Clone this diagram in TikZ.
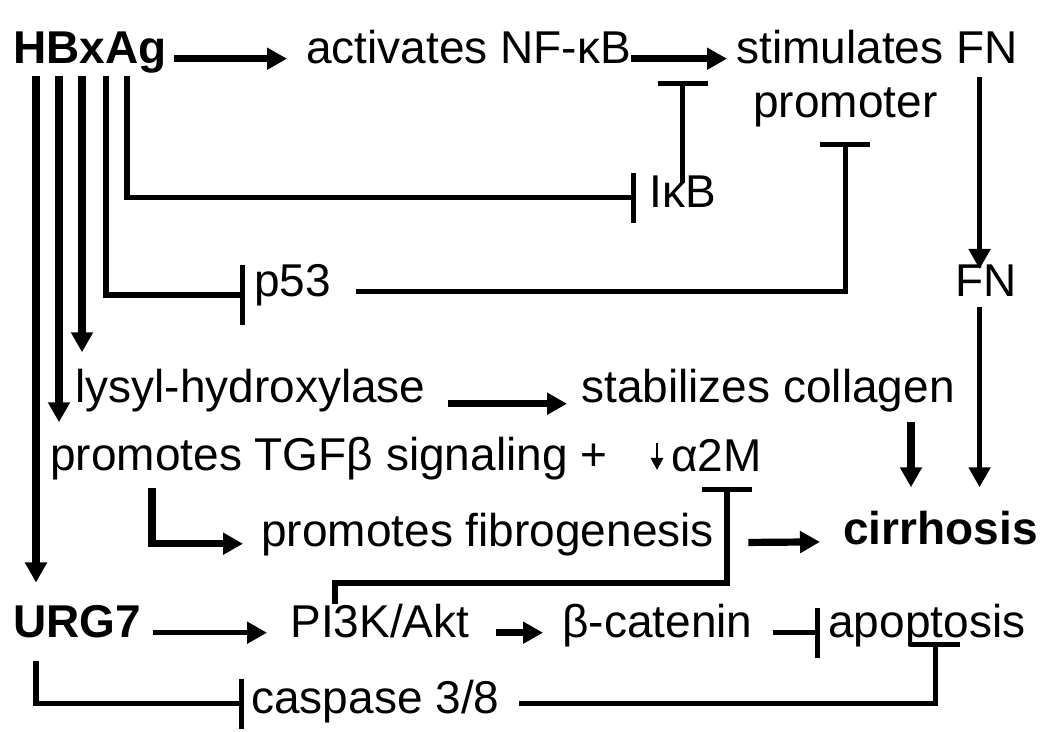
\documentclass[tikz,border=0pt]{standalone}
\usepackage{fontspec}
\setmainfont{Liberation Sans}
\usetikzlibrary{arrows.meta,calc}

\begin{document}
\begin{tikzpicture}[x=0.5pt, y=-0.5pt,
    every node/.style = {anchor=base west, inner sep=0pt, font=\fontsize{23}{27}\selectfont},
    key/.style = {font=\fontsize{23}{27}\selectfont\bfseries},
    thickline/.style = {line width=3.6pt},
    thinline/.style = {line width=2.6pt},
    arr/.style = {-{Triangle[length=10pt, width=10.5pt]}},
    inhib/.style = {-{Bar[width=25pt]}}]
      \path[use as bounding box, fill=white] (0,0) rectangle (1050,732);

      \node[key] (hbx) at (13,64) {HBxAg};
      \node (nfkb) at (306,64) {activates NF-κB};
      \node (stim) at (736,64) {stimulates FN};
      \node (prom) at (753,118) {promoter};
      \node (ikb) at (649,208) {IκB};
      \node (p53) at (254,297) {p53};
      \node (fn) at (955,297) {FN};
      \node (lysyl) at (75,403) {lysyl-hydroxylase};
      \node (stab) at (581,403) {stabilizes collagen};
      \node (tgf) at (50,471) {promotes TGFβ signaling +};
      \node (a2m) at (671,472) {α2M};
      \node (fib) at (261,546) {promotes fibrogenesis};
      \node[key] (cirr) at (843,545) {cirrhosis};
      \node[key] (urg) at (13,638) {URG7};
      \node (pi3k) at (290,638) {PI3K/Akt};
      \node (bcat) at (562,638) {β-catenin};
      \node (apop) at (828,638) {apoptosis};
      \node (casp) at (251,713) {caspase 3/8};

      % drop points under HBxAg
      \foreach \dx/\n in {23/u, 46/t, 69/l, 93/p, 114/i}
      \coordinate (hb\n) at ($(hbx.south west)+(\dx,2)$);
      \coordinate (nfkbT) at ($(ikb.north |- nfkb.mid)+(0,22)$);
      \coordinate (fnx) at ($(fn.north)+(-6.5,0)$);
      \coordinate (stx) at ($(cirr.north west)+(68,0)$);
      \coordinate (apx) at ($(apop.south)+(8.5,0)$);

      \draw[thickline, arr, shorten <=3.5pt, shorten >=9.5pt] (hbx.mid east) -- (nfkb.mid west);
      \draw[thickline, arr, shorten >=4.5pt] (nfkb.mid east) -- (stim.mid west);
      \draw[thinline, inhib, shorten <=-3.5pt] (ikb.north) -- (nfkbT);
      \draw[thinline, inhib, shorten >=6.5pt] (hbi) |- ([yshift=2.5pt]ikb.mid west);
      \draw[thinline, -{Bar[width=30pt]}, shorten >=4.5pt] (hbp) |- ([yshift=1pt]p53.base west);
      \draw[thinline, inhib, shorten <=12pt, shorten >=7pt] (p53.mid east) -| (prom.south);

      \draw[thinline, arr, shorten <=6pt, shorten >=-2pt] (stim.south -| fnx) -- (fnx);
      \draw[thinline, arr, shorten <=5pt, shorten >=12pt] (fnx |- fn.south) -- (fnx |- cirr.north);
      \draw[thickline, arr, shorten <=4.5pt, shorten >=12pt] (stx |- stab.south) -- (stx);

      \draw[thickline, arr, shorten >=8.5pt] (hbl) -- (hbl |- lysyl.north);
      \draw[thickline, arr, shorten >=7.5pt] (hbt) -- (hbt |- tgf.north);
      \draw[thickline, arr, shorten >=11.5pt] (hbu) -- (hbu |- urg.north);

      \draw[thickline, arr, shorten <=11pt, shorten >=7pt] ([yshift=-3pt]lysyl.mid east) -- ([yshift=-3pt]stab.mid west);
      \draw[thickline, arr, shorten <=3.5pt, shorten >=9pt] ($(tgf.south west)+(102,0)$) |- ([yshift=-1.5pt]fib.mid west);
      \draw[thickline, arr, shorten <=17pt, shorten >=11.5pt] ([yshift=-1pt]fib.mid east) -- ([yshift=-1pt]cirr.mid west);
      \draw[line width=1.4pt, -{Triangle[length=6pt, width=6pt]}] ($(a2m.north west)+(-14,4)$) -- ($(a2m.base west)+(-14,-2)$);
      \draw[thinline, inhib] ($(pi3k.north west)+(45,0)$) |- ($(a2m.base west)+(56,111)$) -- ($(a2m.base west)+(56,15)$);

      \draw[thinline, arr, shorten <=5.5pt, shorten >=11.5pt] (urg.mid east) -- (pi3k.mid west);
      \draw[thickline, arr, shorten <=13pt, shorten >=9.5pt] (pi3k.mid east) -- (bcat.mid west);
      \draw[thinline, inhib, shorten <=10pt, shorten >=4pt] (bcat.mid east) -- (apop.mid west);
      \draw[thinline, inhib, shorten <=11pt, shorten >=3.5pt] (hbu |- urg.south) |- ([yshift=2pt]casp.mid west);
      \draw[thinline, inhib, shorten <=9.5pt, shorten >=-3pt] ([yshift=2pt]casp.mid east) -| (apx);
    \end{tikzpicture}
\end{document}
